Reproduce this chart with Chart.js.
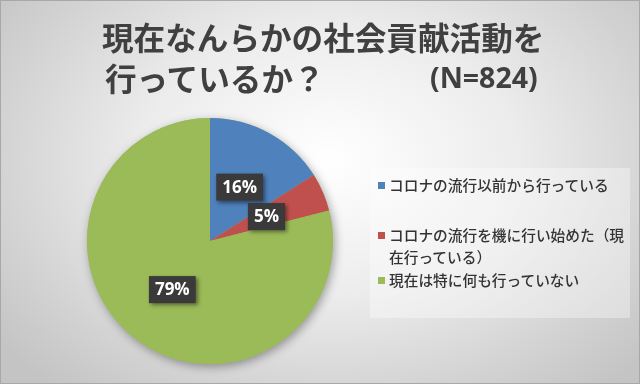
<!DOCTYPE html>
<html><head><meta charset="utf-8">
<script src="https://cdn.jsdelivr.net/npm/chart.js@4"></script>
<style>
html,body{margin:0;padding:0;}
body{width:640px;height:384px;overflow:hidden;position:relative;
background:radial-gradient(ellipse 420px 300px at 330px 160px,#ffffff 0%,#ececec 45%,#d2d2d2 80%,#c4c4c4 100%);
font-family:"Noto Sans CJK JP",sans-serif;}
#frame{position:absolute;left:0;top:0;width:638px;height:382px;border:1px solid #a8a8a8;pointer-events:none;}
#c{position:absolute;left:0;top:0;}
.t{position:absolute;font-weight:bold;color:#404040;font-size:31.6px;line-height:1;white-space:nowrap;}
#legend{position:absolute;left:370px;top:168px;width:260px;height:150px;background:rgba(255,255,255,0.35);}
.li{position:absolute;left:8px;width:254px;font-size:14.7px;line-height:22px;color:#333;font-weight:500;}
.sw{position:absolute;left:0;top:8px;width:7px;height:7px;}
.tx{display:block;margin-left:11px;line-break:anywhere;word-break:break-all;}
</style></head><body>
<canvas id="c" width="640" height="384"></canvas>
<div class="t" id="t1" style="left:102px;top:21px;"></div>
<div class="t" id="t2" style="left:105px;top:62px;"></div>
<div class="t" id="t3" style="left:430px;top:63px;font-family:'Open Sans','Noto Sans',sans-serif;font-size:28.5px;"></div>
<div id="legend"></div>
<div id="frame"></div>
<script>
const titleLines = ["現在なんらかの社会貢献活動を", "行っているか？"];
const sampleNote = "(N=824)";
const categories = ["コロナの流行以前から行っている", "コロナの流行を機に行い始めた（現在行っている）", "現在は特に何も行っていない"];
const values = [16, 5, 79];
const colors = ["#4f81bd", "#c0504d", "#9bbb59"];
const legendTops = [6, 56, 101];

document.getElementById('t1').textContent = titleLines[0];
document.getElementById('t2').textContent = titleLines[1];
document.getElementById('t3').textContent = sampleNote;

const lg = document.getElementById('legend');
categories.forEach((c,i)=>{
  const d=document.createElement('div');d.className='li';d.style.top=legendTops[i]+'px';
  const s=document.createElement('span');s.className='sw';s.style.background=colors[i];
  const t=document.createElement('span');t.className='tx';t.textContent=c;
  d.appendChild(s);d.appendChild(t);lg.appendChild(d);
});

const shadowPlugin = {
  id:'shadow',
  beforeDatasetsDraw(chart){
    const meta=chart.getDatasetMeta(0); const a=meta.data[0]; if(!a) return;
    const ctx=chart.ctx; ctx.save();
    ctx.shadowColor='rgba(0,0,0,0.35)'; ctx.shadowBlur=10; ctx.shadowOffsetX=2; ctx.shadowOffsetY=3;
    ctx.fillStyle='#9bbb59';
    ctx.beginPath(); ctx.arc(a.x,a.y,a.outerRadius,0,Math.PI*2); ctx.fill(); ctx.restore();
  }
};
const labelPlugin = {
  id:'lbls',
  afterDatasetsDraw(chart){
    const ctx=chart.ctx; const meta=chart.getDatasetMeta(0);
    ctx.save();
    ctx.font='bold 17px "Open Sans", "Noto Sans", sans-serif';
    ctx.textAlign='center'; ctx.textBaseline='middle';
    meta.data.forEach((arc,i)=>{
      const p=arc.tooltipPosition();
      const txt=values[i]+'%';
      const w=ctx.measureText(txt).width+12, h=27;
      ctx.save();
      ctx.shadowColor='rgba(0,0,0,0.45)'; ctx.shadowBlur=4; ctx.shadowOffsetX=2; ctx.shadowOffsetY=2;
      ctx.fillStyle='#3a3a3a';
      ctx.fillRect(p.x-w/2,p.y-h/2,w,h);
      ctx.restore();
      ctx.fillStyle='#ffffff';
      ctx.fillText(txt,p.x,p.y+1);
    });
    ctx.restore();
  }
};

new Chart(document.getElementById('c'),{
  type:'pie',
  data:{labels:categories,datasets:[{data:values,backgroundColor:colors,borderWidth:0}]},
  options:{
    responsive:false,animation:false,
    layout:{padding:{left:87,right:307,top:118,bottom:20}},
    plugins:{legend:{display:false},tooltip:{enabled:false},title:{display:false}}
  },
  plugins:[shadowPlugin,labelPlugin]
});
</script>
</body></html>
